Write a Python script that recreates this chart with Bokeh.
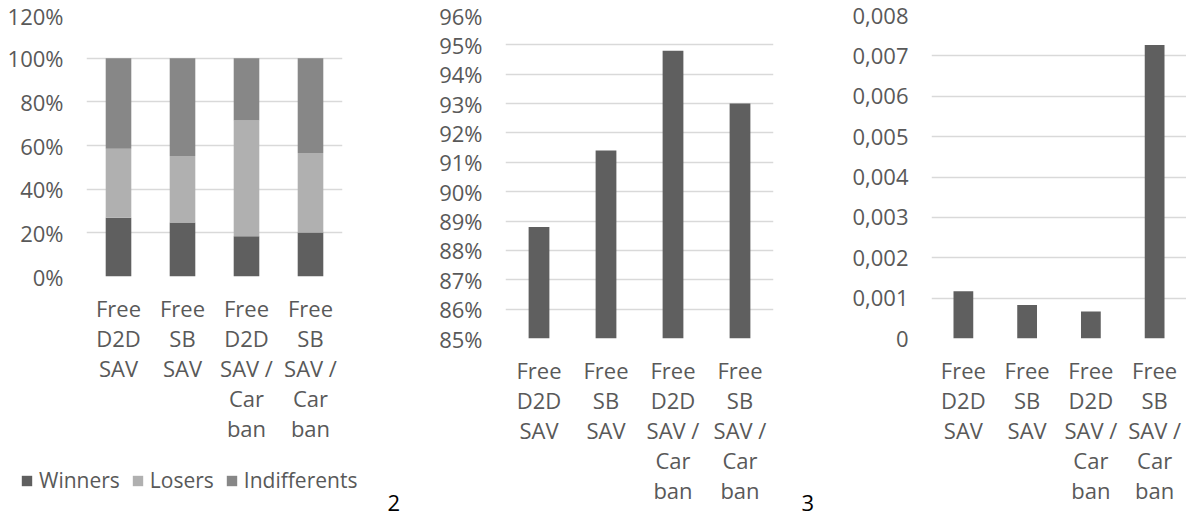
from bokeh.plotting import figure
from bokeh.models import FactorRange, Range1d, FixedTicker, Legend, LegendItem, Label, ColumnDataSource
from bokeh.layouts import row, column
from bokeh.embed import file_html
from bokeh.resources import INLINE

# ---- data ----
categories = ["Free\nD2D\nSAV", "Free\nSB\nSAV", "Free\nD2D\nSAV /\nCar\nban", "Free\nSB\nSAV /\nCar\nban"]
winners = [0.269, 0.247, 0.184, 0.202]
losers = [0.316, 0.305, 0.530, 0.364]
indifferents = [0.415, 0.448, 0.286, 0.434]
share_values = [0.888, 0.914, 0.948, 0.930]
chart3_values = [0.00117, 0.00083, 0.00067, 0.00727]

ticks1 = [0.0, 0.2, 0.4, 0.6, 0.8, 1.0, 1.2]
tick_labels1 = ["0%", "20%", "40%", "60%", "80%", "100%", "120%"]
ticks2 = [0.85, 0.86, 0.87, 0.88, 0.89, 0.90, 0.91, 0.92, 0.93, 0.94, 0.95, 0.96]
tick_labels2 = ["85%", "86%", "87%", "88%", "89%", "90%", "91%", "92%", "93%", "94%", "95%", "96%"]
ticks3 = [0.0, 0.001, 0.002, 0.003, 0.004, 0.005, 0.006, 0.007, 0.008]
tick_labels3 = ["0", "0,001", "0,002", "0,003", "0,004", "0,005", "0,006", "0,007", "0,008"]
series_names = ["Winners", "Losers", "Indifferents"]
figure_numbers = ["2", "3"]

# ---- style ----
FONT = "Open Sans"
TXT = "#595959"
GRID = "#d9d9d9"
C_WIN = "#5f5f5f"
C_LOS = "#b0b0b0"
C_IND = "#878787"
FS = "22px"


def base(width, height, y0, y1, ticks, labels, bl, br, bt, bb):
    p = figure(width=width, height=height, x_range=FactorRange(*categories, range_padding=0),
               y_range=Range1d(y0, y1), output_backend="svg", toolbar_location=None,
               min_border_left=bl, min_border_right=br, min_border_top=bt, min_border_bottom=bb)
    p.outline_line_color = None
    p.background_fill_color = "white"
    p.border_fill_color = "white"
    p.xgrid.grid_line_color = None
    p.ygrid.grid_line_color = GRID
    p.ygrid.grid_line_width = 1.3
    p.yaxis.ticker = FixedTicker(ticks=ticks)
    p.yaxis.major_label_overrides = {t: l for t, l in zip(ticks, labels)}
    for ax in (p.xaxis, p.yaxis):
        ax.axis_line_color = None
        ax.major_tick_line_color = None
        ax.minor_tick_line_color = None
        ax.major_tick_out = 0
        ax.major_tick_in = 0
        ax.major_label_text_font = FONT
        ax.major_label_text_font_size = FS
        ax.major_label_text_color = TXT
    p.yaxis.major_label_standoff = 23
    p.xaxis.major_label_standoff = 16
    p.xaxis.major_label_text_line_height = 1.0
    return p


def blank(width, height, x_range):
    p = figure(width=width, height=height, x_range=x_range, y_range=Range1d(0, 1),
               output_backend="svg", toolbar_location=None,
               min_border_left=0, min_border_right=0, min_border_top=0, min_border_bottom=0)
    p.axis.visible = False
    p.grid.grid_line_color = None
    p.outline_line_color = None
    p.background_fill_color = "white"
    p.border_fill_color = "white"
    return p


# chart 1: stacked
p1 = base(400, 450, 0, 1.2, ticks1, tick_labels1, 86, 58, 14, 174)
src1 = ColumnDataSource(dict(cat=categories, Winners=winners, Losers=losers, Indifferents=indifferents))
p1.vbar_stack(series_names, x="cat", width=0.4, source=src1,
              color=[C_WIN, C_LOS, C_IND], line_color=None)

# legend + figure number under chart 1 (hidden copies of the series feed the legend swatches)
pl = blank(400, 67, FactorRange(*categories, range_padding=0))
hidden = pl.vbar_stack(series_names, x="cat", width=0.4, source=src1,
                       color=[C_WIN, C_LOS, C_IND], line_color=None)
for r in hidden:
    r.visible = False
leg = Legend(items=[LegendItem(label=n, renderers=[r]) for n, r in zip(series_names, hidden)],
             orientation="horizontal", location=(20, 23),
             label_text_font=FONT, label_text_font_size="21px", label_text_color=TXT,
             glyph_width=13, glyph_height=13, label_standoff=6, spacing=11,
             inactive_fill_alpha=0,
             padding=0, margin=0, border_line_color=None, background_fill_alpha=0)
pl.add_layout(leg, "center")
pl.add_layout(Label(x=387, y=15, x_units="screen", y_units="screen", text=figure_numbers[0],
                    text_font=FONT, text_font_size="22px", text_color="black",
                    text_baseline="middle"))

# chart 2
p2 = base(390, 517, 0.85, 0.96, ticks2, tick_labels2, 105, 17, 15, 179)
src2 = ColumnDataSource(dict(cat=categories, v=share_values))
p2.vbar(x="cat", top="v", bottom=0.85, width=0.31, source=src2, color=C_WIN, line_color=None)

# figure number "3"
pn = blank(40, 517, Range1d(0, 1))
pn.add_layout(Label(x=11, y=15, x_units="screen", y_units="screen", text=figure_numbers[1],
                    text_font=FONT, text_font_size="22px", text_color="black",
                    text_baseline="middle"))

# chart 3
p3 = base(356, 517, 0, 0.008, ticks3, tick_labels3, 101, 0, 15, 179)
src3 = ColumnDataSource(dict(cat=categories, v=chart3_values))
p3.vbar(x="cat", top="v", width=0.31, source=src3, color=C_WIN, line_color=None)

layout = row(column(p1, row(pl, spacing=0), spacing=0), p2, column(pn, spacing=0), p3, spacing=0)
open("out.html", "w").write(file_html(layout, INLINE))
